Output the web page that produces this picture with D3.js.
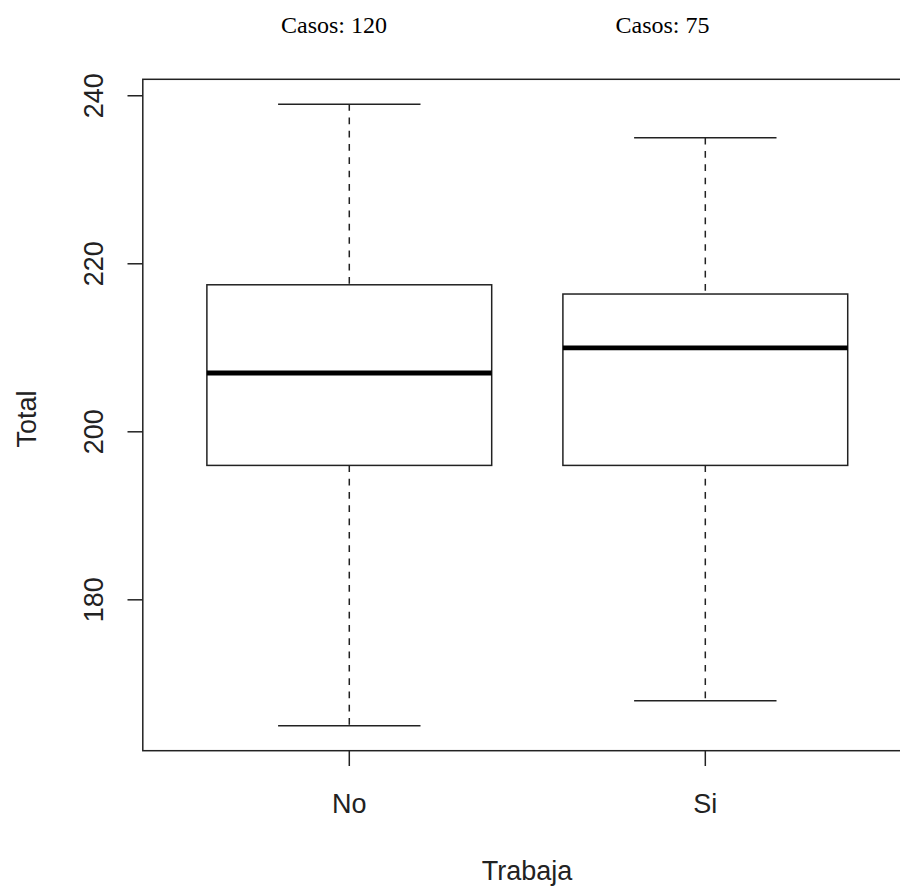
<!DOCTYPE html>
<html><head><meta charset="utf-8">
<script src="https://cdn.jsdelivr.net/npm/d3@7"></script>
<style>body{margin:0;background:#fff}svg{display:block}</style>
</head><body>
<script>
const categories = ["No", "Si"];
const mins = [165, 168];
const q1s = [196, 196];
const medians = [207, 210];
const q3s = [217.5, 216.4];
const maxs = [239, 235];
const counts = [120, 75];
const yTicks = [180, 200, 220, 240];

const W = 900, H = 886;
const svg = d3.select("body").append("svg").attr("width", W).attr("height", H);
const col = "#222";

const x = d3.scaleLinear().domain([0.42, 2.58]).range([142.8, 911.8]);
const y = d3.scaleLinear().domain([162.04, 241.96]).range([750.7, 79.3]);
const bw = 0.4, sw = 0.2;

const data = categories.map((c, i) => ({c, i, min: mins[i], q1: q1s[i], med: medians[i], q3: q3s[i], max: maxs[i], n: counts[i]}));

const g = svg.append("g");
data.forEach(d => {
  const cx = x(d.i + 1);
  // whiskers
  g.append("line").attr("x1", cx).attr("x2", cx).attr("y1", y(d.max)).attr("y2", y(d.q3))
    .attr("stroke", col).attr("stroke-width", 1.5).attr("stroke-dasharray", "6.7,6.6");
  g.append("line").attr("x1", cx).attr("x2", cx).attr("y1", y(d.q1)).attr("y2", y(d.min))
    .attr("stroke", col).attr("stroke-width", 1.5).attr("stroke-dasharray", "6.7,6.6");
  // caps
  g.append("line").attr("x1", x(d.i + 1 - sw)).attr("x2", x(d.i + 1 + sw)).attr("y1", y(d.max)).attr("y2", y(d.max))
    .attr("stroke", col).attr("stroke-width", 1.5);
  g.append("line").attr("x1", x(d.i + 1 - sw)).attr("x2", x(d.i + 1 + sw)).attr("y1", y(d.min)).attr("y2", y(d.min))
    .attr("stroke", col).attr("stroke-width", 1.5);
  // box
  g.append("rect").attr("x", x(d.i + 1 - bw)).attr("width", x(d.i + 1 + bw) - x(d.i + 1 - bw))
    .attr("y", y(d.q3)).attr("height", y(d.q1) - y(d.q3))
    .attr("fill", "none").attr("stroke", col).attr("stroke-width", 1.5);
  // median
  g.append("line").attr("x1", x(d.i + 1 - bw)).attr("x2", x(d.i + 1 + bw)).attr("y1", y(d.med)).attr("y2", y(d.med))
    .attr("stroke", "#000").attr("stroke-width", 4.8);
});

// plot frame
svg.append("rect").attr("x", 142.8).attr("y", 79.3).attr("width", 911.8 - 142.8).attr("height", 750.7 - 79.3)
  .attr("fill", "none").attr("stroke", col).attr("stroke-width", 1.5);

// y axis
const yAxis = svg.append("g");
yTicks.forEach(t => {
  yAxis.append("line").attr("x1", 127.5).attr("x2", 142.8).attr("y1", y(t)).attr("y2", y(t))
    .attr("stroke", col).attr("stroke-width", 1.5);
  yAxis.append("text").attr("transform", `translate(103,${y(t)}) rotate(-90)`)
    .attr("text-anchor", "middle").attr("font-family", "Liberation Sans, Arial, sans-serif")
    .attr("font-size", 27).attr("fill", col).text(t);
});

// x axis
categories.forEach((c, i) => {
  const cx = x(i + 1);
  svg.append("line").attr("x1", cx).attr("x2", cx).attr("y1", 750.7).attr("y2", 766)
    .attr("stroke", col).attr("stroke-width", 1.5);
  svg.append("text").attr("x", cx).attr("y", 812.5).attr("text-anchor", "middle")
    .attr("font-family", "Liberation Sans, Arial, sans-serif").attr("font-size", 27).attr("fill", col).text(c);
});

// axis titles
svg.append("text").attr("x", 527).attr("y", 879.5).attr("text-anchor", "middle")
  .attr("font-family", "Liberation Sans, Arial, sans-serif").attr("font-size", 27).attr("fill", col).text("Trabaja");
svg.append("text").attr("transform", "translate(36,419) rotate(-90)").attr("text-anchor", "middle")
  .attr("font-family", "Liberation Sans, Arial, sans-serif").attr("font-size", 27).attr("fill", col).text("Total");

// case counts
const casosX = [334, 662.5];
data.forEach((d, i) => {
  svg.append("text").attr("x", casosX[i]).attr("y", 33).attr("text-anchor", "middle")
    .attr("font-family", "Liberation Serif, Times New Roman, serif").attr("font-size", 24).attr("fill", "#000")
    .text("Casos: " + d.n);
});
</script>
</body></html>
